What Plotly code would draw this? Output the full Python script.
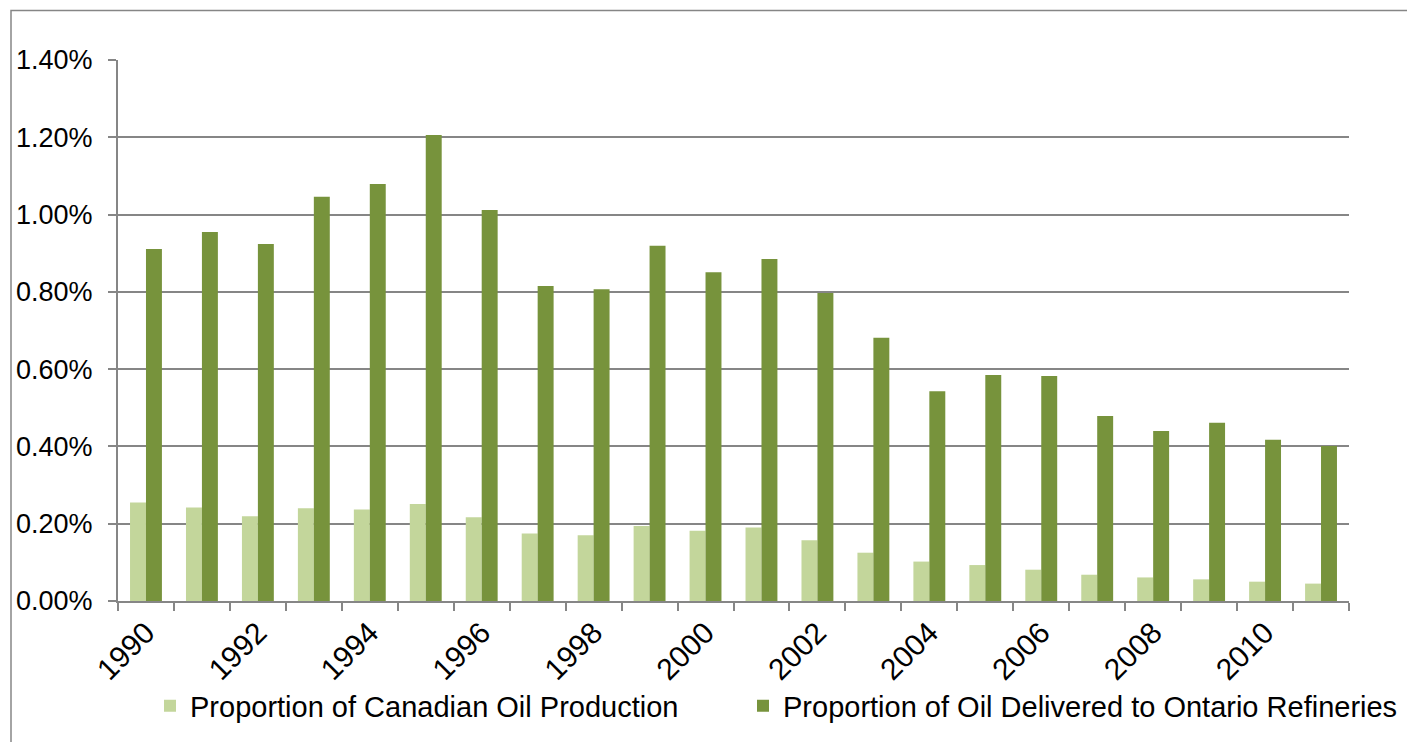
import plotly.graph_objects as go

years = list(range(1990, 2012))
canadian_pct = [0.255, 0.242, 0.219, 0.240, 0.237, 0.251, 0.217, 0.175, 0.170, 0.194, 0.182,
                0.190, 0.157, 0.125, 0.102, 0.093, 0.081, 0.068, 0.061, 0.056, 0.050, 0.045]
ontario_pct = [0.911, 0.955, 0.924, 1.046, 1.079, 1.206, 1.012, 0.815, 0.807, 0.919, 0.851,
               0.885, 0.797, 0.681, 0.543, 0.585, 0.582, 0.479, 0.440, 0.461, 0.417, 0.401]
tick_years = [y for y in years if y % 2 == 0]
series_names = ["Proportion of Canadian Oil Production",
                "Proportion of Oil Delivered to Ontario Refineries"]

FONT = "Liberation Sans, Arial, sans-serif"
AXIS_GRAY = "#868686"

fig = go.Figure()
fig.add_trace(go.Bar(x=years, y=[v / 100 for v in canadian_pct], name=series_names[0],
                     marker=dict(color="#C3D69B", line=dict(width=0)), legend="legend"))
fig.add_trace(go.Bar(x=years, y=[v / 100 for v in ontario_pct], name=series_names[1],
                     marker=dict(color="#77933C", line=dict(width=0)), legend="legend2"))

legend_common = dict(orientation="h", xanchor="left", y=-0.194, yanchor="middle",
                     font=dict(size=29), itemwidth=30, bgcolor="rgba(0,0,0,0)")

fig.update_layout(
    width=1407, height=742,
    margin=dict(l=118, r=58, t=60, b=141, autoexpand=False),
    paper_bgcolor="white", plot_bgcolor="white",
    font=dict(family=FONT, size=28, color="black"),
    barmode="group", bargap=0.43, bargroupgap=0,
    showlegend=True,
    legend=dict(x=(150 - 118) / 1231, **legend_common),
    legend2=dict(x=(743 - 118) / 1231, **legend_common),
    xaxis=dict(range=[1989.5, 2011.5], tickmode="array", tickvals=tick_years,
               ticktext=[str(y) for y in tick_years], tickangle=-45,
               showgrid=False, zeroline=False, showline=True, linecolor=AXIS_GRAY, linewidth=2,
               ticks="", tickfont=dict(size=30),
               minor=dict(tickmode="linear", tick0=1989.5, dtick=1, ticks="outside",
                          ticklen=8, tickwidth=2, tickcolor=AXIS_GRAY, showgrid=False)),
    yaxis=dict(range=[0, 0.014], dtick=0.002, tickformat=".2%",
               showgrid=True, gridcolor=AXIS_GRAY, gridwidth=2,
               zeroline=False, showline=True, linecolor=AXIS_GRAY, linewidth=2,
               ticks="outside", ticklen=8, tickwidth=2, tickcolor=AXIS_GRAY,
               ticklabelstandoff=10, tickfont=dict(size=27)),
    shapes=[dict(type="rect", xref="paper", yref="paper",
                 x0=(11 - 118) / 1231, x1=1.2, y0=-0.5, y1=(601 - 10.5) / 541,
                 line=dict(color=AXIS_GRAY, width=1.5), fillcolor="rgba(0,0,0,0)", layer="below")],
)

fig.write_html("out.html")
